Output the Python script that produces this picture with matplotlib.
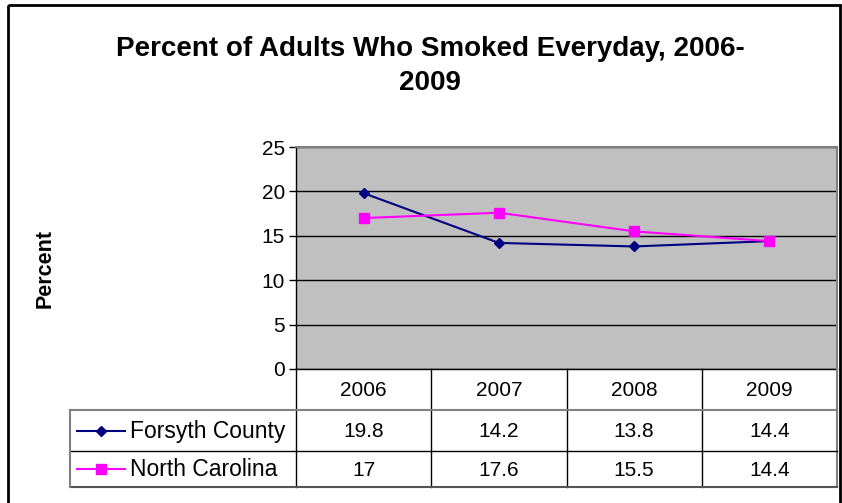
import numpy as np
import matplotlib as mpl
import matplotlib.pyplot as plt
from matplotlib.patches import Rectangle

mpl.rcParams.update({"font.family": ["Liberation Sans", "DejaVu Sans"], "font.size": 15})

YEARS = ["2006", "2007", "2008", "2009"]
SERIES = ["Forsyth County", "North Carolina"]
FORSYTH = [19.8, 14.2, 13.8, 14.4]
NC = [17.0, 17.6, 15.5, 14.4]
FORSYTH_TXT = ["19.8", "14.2", "13.8", "14.4"]
NC_TXT = ["17", "17.6", "15.5", "14.4"]
YTICKS = [0, 5, 10, 15, 20, 25]

NAVY, MAG = "#000080", "#FF00FF"
W, H = 842, 503
fig = plt.figure(figsize=(W / 100, H / 100), dpi=100)


def box(l, t, r, b):                      # pixel box (top-left origin) -> figure fraction
    return [l / W, 1 - b / H, (r - l) / W, (b - t) / H]


# --- plot area ---
L, T, R, B = 296, 147, 837, 369
ax = fig.add_axes(box(L, T, R, B))
ax.set_facecolor("#C0C0C0")
x = np.arange(len(YEARS))
ax.plot(x, FORSYTH, color=NAVY, marker="D", ms=5.5, lw=1.5, zorder=3)
ax.plot(x, NC, color=MAG, marker="s", ms=7.5, lw=1.5, zorder=4)
ax.set_xlim(-0.5, len(YEARS) - 0.5)
ax.set_ylim(0, 25)
ax.set_yticks(YTICKS)
ax.set_xticks([])
ax.yaxis.grid(True, color="black", lw=1)
ax.set_axisbelow(True)
for s in ax.spines.values():
    s.set_color("#808080"); s.set_linewidth(1.5)
ax.spines["left"].set_color("black"); ax.spines["left"].set_linewidth(1)
ax.spines["bottom"].set_color("black"); ax.spines["bottom"].set_linewidth(1)
ax.tick_params(axis="y", length=5, width=1, pad=3, labelsize=15)

# --- data table under the axis ---
tb = fig.add_axes([0, 0, 1, 1], zorder=5)
tb.set_xlim(0, W); tb.set_ylim(H, 0); tb.axis("off")
edges = np.linspace(L, R, len(YEARS) + 1)
mids = (edges[:-1] + edges[1:]) / 2
rows = [369, 410, 451, 487]
LL = 70
for e in edges[:-1]:
    tb.plot([e, e], [rows[0], rows[-1]], color="black", lw=1)
tb.plot([R, R], [rows[0], rows[-1]], color="#808080", lw=1.5)
tb.plot([LL, R], [rows[1], rows[1]], color="#808080", lw=1.5)
tb.plot([LL, R], [rows[2], rows[2]], color="black", lw=1)
tb.plot([LL, R], [rows[3], rows[3]], color="#555555", lw=1.5)
tb.plot([LL, LL], [rows[1], rows[3]], color="#808080", lw=1.5)

for m, yr in zip(mids, YEARS):
    tb.text(m, (rows[0] + rows[1]) / 2 + 1, yr, ha="center", va="center", fontsize=15)
for i, (name, txt, col, mk, ms) in enumerate([(SERIES[0], FORSYTH_TXT, NAVY, "D", 5.5),
                                               (SERIES[1], NC_TXT, MAG, "s", 7.5)]):
    yc = (rows[i + 1] + rows[i + 2]) / 2
    tb.plot([77, 125], [yc, yc], color=col, lw=1.5)
    tb.plot([101], [yc], color=col, marker=mk, ms=ms)
    tb.text(130, yc + 1, name, ha="left", va="center", fontsize=16.5)
    for m, t in zip(mids, txt):
        tb.text(m, yc + 1, t, ha="center", va="center", fontsize=15)

# outer chart frame
tb.add_patch(Rectangle((8, 5), 832, 510, fill=False, ec="black", lw=2))

fig.text(430 / W, 1 - 66 / H, "Percent of Adults Who Smoked Everyday, 2006-\n2009",
         ha="center", va="center", fontsize=20, fontweight="bold", linespacing=1.45)
fig.text(45 / W, 1 - 268 / H, "Percent", rotation=90, ha="center", va="center",
         fontsize=15.5, fontweight="bold")

fig.savefig("out.png", dpi=100)
